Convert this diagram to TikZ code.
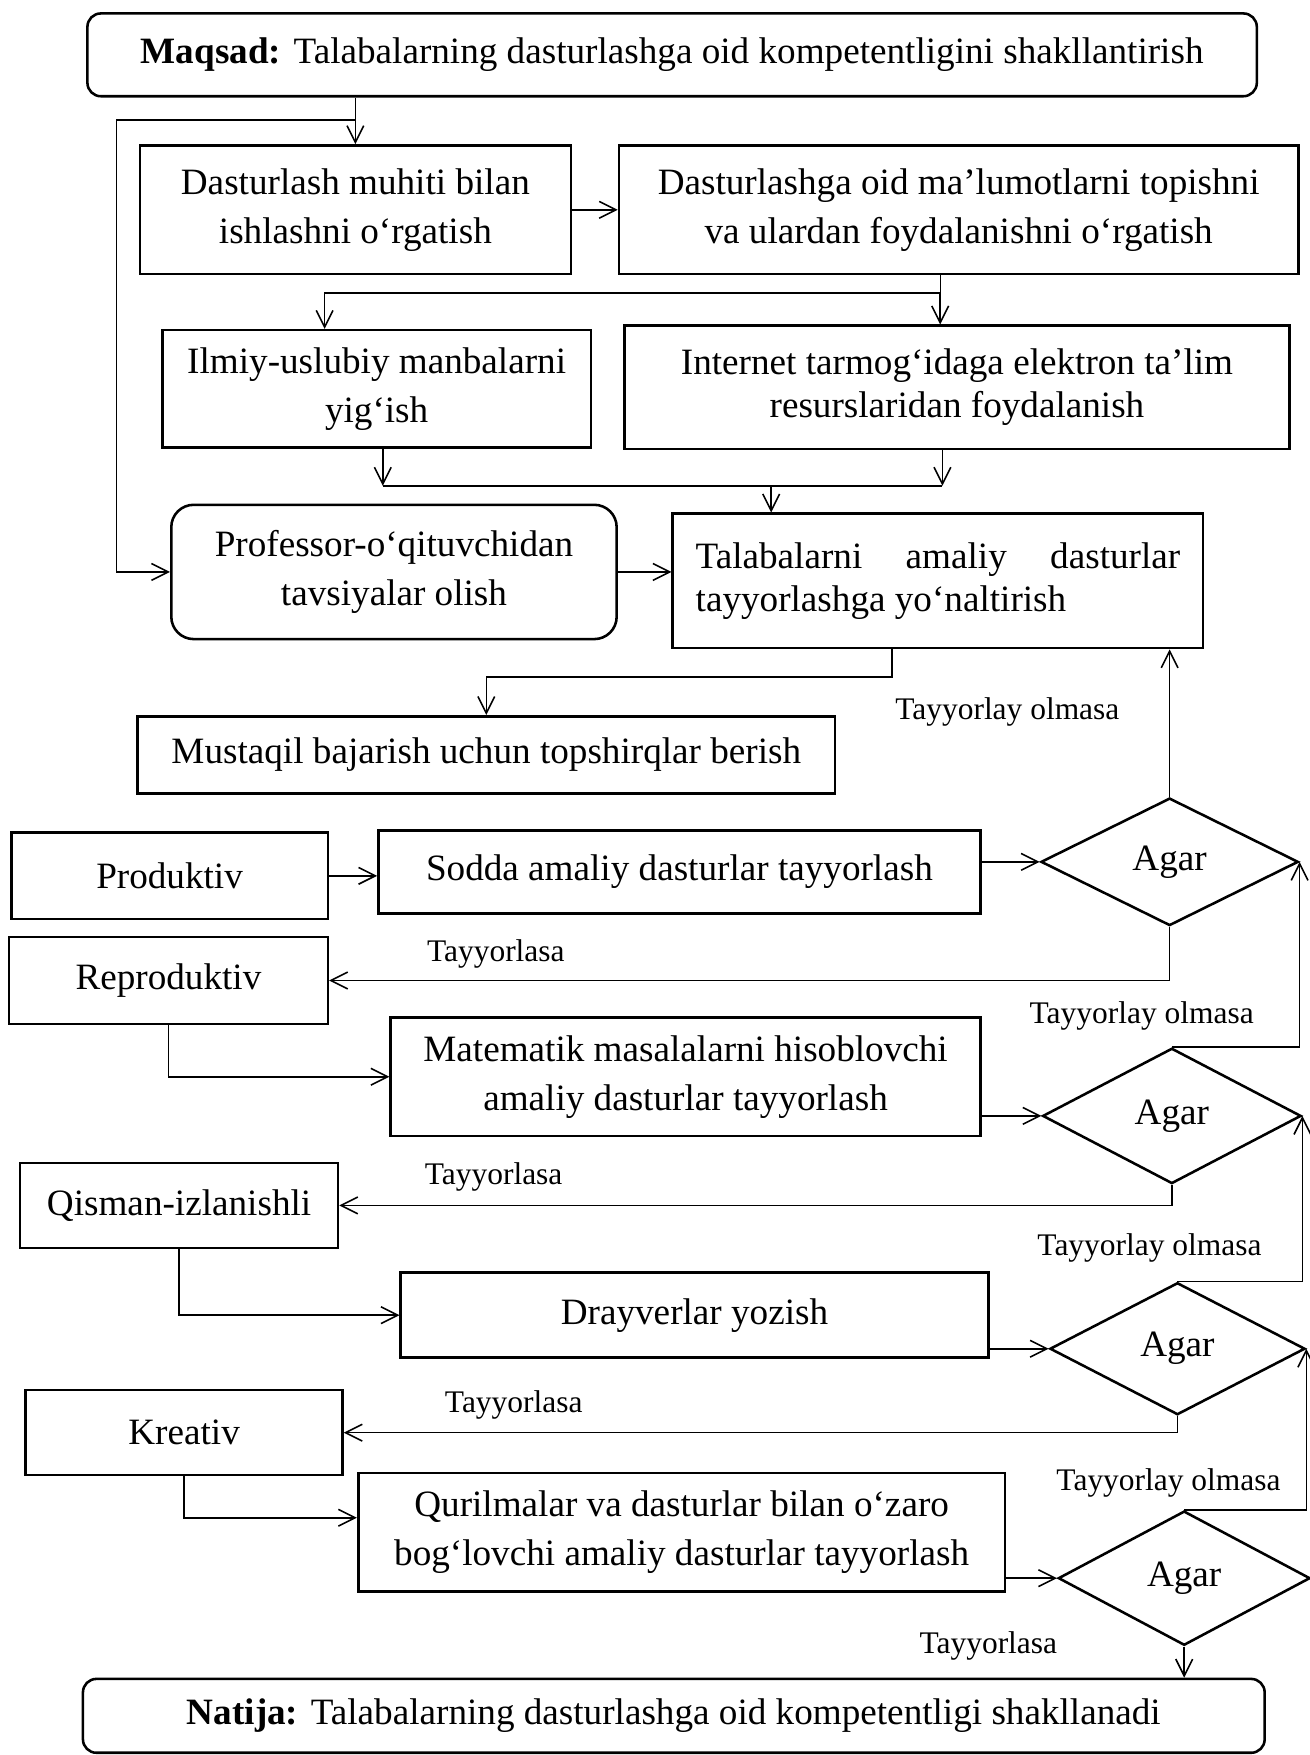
\documentclass[tikz,border=0pt]{standalone}
\usepackage{fontspec}
\setmainfont{Liberation Serif}
\usetikzlibrary{shapes.geometric,arrows.meta}

\begin{document}
\begin{tikzpicture}[x=0.02cm,y=-0.02cm,
        font=\fontsize{18.9}{25}\selectfont,
        box/.style={draw,line width=1.3pt,align=center,inner sep=2pt},
        rbox/.style={box,rounded corners=0.24cm},
        cond/.style={draw,line width=1.3pt,diamond,inner sep=0pt},
        arr/.style={-{Straight Barb[length=3mm,width=3mm]},line width=0.8pt},
        lbl/.style={font=\fontsize{16}{19}\selectfont}]
        \useasboundingbox (0,0) rectangle (1170,1568);

        % Yuqori qism
        \node[rbox,minimum width=20.9cm,minimum height=1.48cm] (maqsad) at (600.5,49) {\textbf{Maqsad:} Talabalarning dasturlashga oid kompetentligini shakllantirish};
        \node[box,minimum width=7.7cm,minimum height=2.3cm] (muhit) at (317.5,187.5) {Dasturlash muhiti bilan\\ishlashni o‘rgatish};
        \node[box,minimum width=12.14cm,minimum height=2.3cm] (malumot) at (856.5,187.5) {Dasturlashga oid ma’lumotlarni topishni\\va ulardan foydalanishni o‘rgatish};
        \node[box,minimum width=7.66cm,minimum height=2.1cm] (ilmiy) at (336.5,347.5) {Ilmiy-uslubiy manbalarni\\yig‘ish};
        \node[box,minimum width=11.88cm,minimum height=2.2cm,font=\fontsize{18.9}{21.6}\selectfont] (internet) at (855,346) {Internet tarmog‘idaga elektron ta’lim\\resurslaridan foydalanish};
        \node[rbox,rounded corners=0.4cm,minimum width=7.96cm,minimum height=2.4cm] (professor) at (352,511) {Professor-o‘qituvchidan\\tavsiyalar olish};
        \node[box,align=left,minimum width=9.48cm,minimum height=2.4cm,font=\fontsize{18.9}{21.6}\selectfont] (yonaltir) at (838,519) {\makebox[8.66cm][s]{Talabalarni amaliy dasturlar}\\tayyorlashga yo‘naltirish};
        \node[box,minimum width=12.46cm,minimum height=1.38cm] (mustaqil) at (434.5,674.5) {Mustaqil bajarish uchun topshirqlar berish};

        \coordinate (fb) at (104,107);
        \coordinate (split) at (840,262);
        \coordinate (jl) at (342,434);
        \coordinate (jr) at (842,434);
        \coordinate (join) at (689,434);
        \coordinate (ym) at (797,605);

        \draw[arr] (maqsad.south -| muhit) -- (muhit.north);
        \draw[arr] (muhit.north |- fb) -- (fb) |- (professor.west);
        \draw[arr] (muhit) -- (malumot);
        \draw (malumot.south -| split) -- (split);
        \draw[arr] (split) -| ([xshift=-0.93cm]ilmiy.north);
        \draw[arr] (split) -- (internet.north -| split);
        \draw[arr] (ilmiy.south -| jl) -- (jl);
        \draw[arr] (internet.south -| jr) -- (jr);
        \draw[line width=0.8pt] (jl) -- (jr);
        \draw[arr] (join) -- (yonaltir.north -| join);
        \draw[arr] (professor.east) -- (professor.east -| yonaltir.west);
        \draw[arr] (yonaltir.south -| ym) -- (ym) -| (mustaqil.north);

        % Darajalar
        \node[box,minimum width=5.66cm,minimum height=1.54cm] (produktiv) at (151.5,782.5) {Produktiv};
        \node[box,minimum width=10.76cm,minimum height=1.48cm] (sodda) at (607,779) {Sodda amaliy dasturlar tayyorlash};
        \node[cond,minimum width=4.6cm,minimum height=2.28cm] (agar1) at (1045,770) {Agar};

        \node[box,minimum width=5.7cm,minimum height=1.56cm] (reproduktiv) at (150.5,876) {Reproduktiv};
        \node[box,minimum width=10.54cm,minimum height=2.12cm] (matematik) at (612.5,962) {Matematik masalalarni hisoblovchi\\amaliy dasturlar tayyorlash};
        \node[cond,minimum width=4.62cm,minimum height=2.42cm] (agar2) at (1047,997) {Agar};

        \node[box,minimum width=5.68cm,minimum height=1.52cm] (qisman) at (160,1077) {Qisman-izlanishli};
        \node[box,minimum width=10.5cm,minimum height=1.52cm] (drayver) at (620.5,1175) {Drayverlar yozish};
        \node[cond,minimum width=4.56cm,minimum height=2.36cm] (agar3) at (1052,1205) {Agar};

        \node[box,minimum width=5.66cm,minimum height=1.52cm] (kreativ) at (164.5,1280) {Kreativ};
        \node[box,minimum width=11.56cm,minimum height=2.12cm] (qurilma) at (609,1369) {Qurilmalar va dasturlar bilan o‘zaro\\bog‘lovchi amaliy dasturlar tayyorlash};
        \node[cond,minimum width=4.5cm,minimum height=2.4cm] (agar4) at (1058,1410) {Agar};

        \node[rbox,minimum width=21.12cm,minimum height=1.32cm] (natija) at (602,1533) {\textbf{Natija:} Talabalarning dasturlashga oid kompetentligi shakllanadi};

        \node[lbl] (olmasa1) at (900,636) {Tayyorlay olmasa};
        \node[lbl] (olmasa2) at (1020,908) {Tayyorlay olmasa};
        \node[lbl] (olmasa3) at (1027,1115) {Tayyorlay olmasa};
        \node[lbl] (olmasa4) at (1044,1325) {Tayyorlay olmasa};
        \node[lbl] (tayyor1) at (443,852) {Tayyorlasa};
        \node[lbl] (tayyor2) at (441,1052) {Tayyorlasa};
        \node[lbl] (tayyor3) at (459,1255) {Tayyorlasa};
        \node[lbl] (tayyor4) at (883,1471) {Tayyorlasa};

        \draw[arr] (agar1.north) -- (agar1.north |- yonaltir.south);
        \draw[arr] (produktiv) -- (produktiv -| sodda.west);
        \draw[arr] (sodda.east |- agar1) -- (agar1.west);
        \draw[arr] (agar1.south) |- (reproduktiv.east);
        \draw[arr] (reproduktiv.south) |- (matematik.west);
        \draw[arr] (matematik.east |- agar2) -- (agar2.west);
        \draw[arr] (agar2.north) -| (agar1.east);
        \draw[arr] (agar2.south) |- (qisman.east);
        \draw[arr] (qisman.south) |- (drayver.west);
        \draw[arr] (drayver.east |- agar3) -- (agar3.west);
        \draw[arr] (agar3.north) -| (agar2.east);
        \draw[arr] (agar3.south) |- (kreativ.east);
        \draw[arr] (kreativ.south) |- ([yshift=0.26cm]qurilma.west);
        \draw[arr] (qurilma.east |- agar4) -- (agar4.west);
        \draw[arr] (agar4.north) -| (agar3.east);
        \draw[arr] (agar4.south) -- (agar4.south |- natija.north);
\end{tikzpicture}
\end{document}
